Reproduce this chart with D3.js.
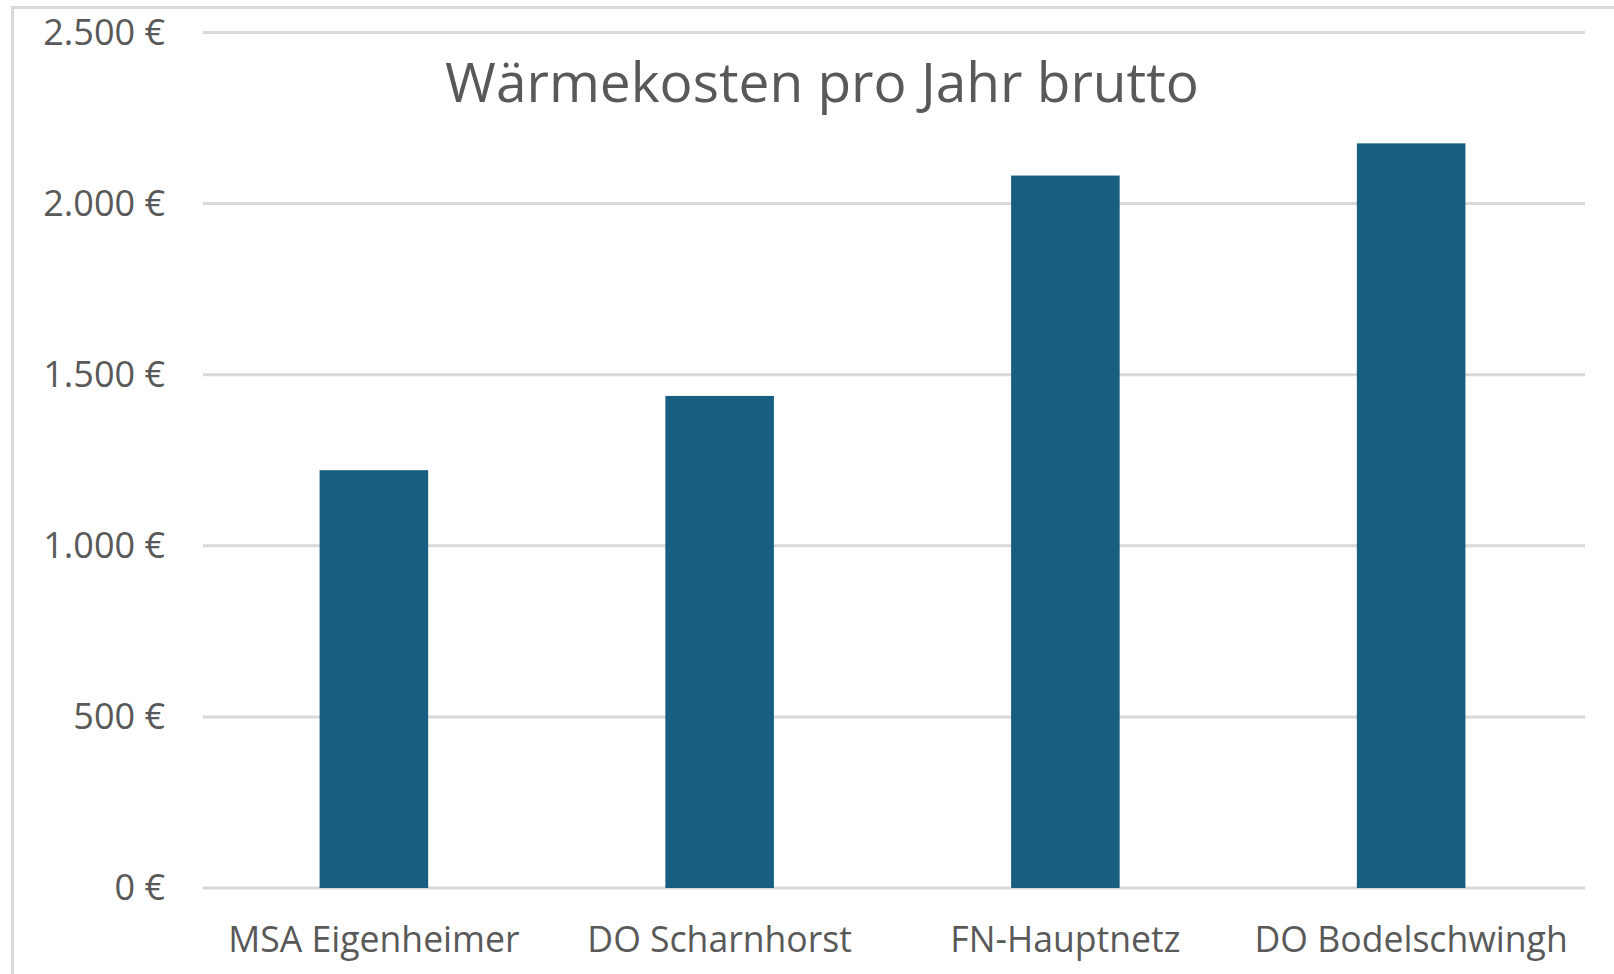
<!DOCTYPE html>
<html>
<head>
<meta charset="utf-8">
<style>
body { margin: 0; background: #fff; overflow: hidden; }
text { font-family: "Open Sans", sans-serif; fill: #595959; }
</style>
<script src="https://cdn.jsdelivr.net/npm/d3@7"></script>
</head>
<body>
<div id="chart"></div>
<script>

// data
var categories = ["MSA Eigenheimer", "DO Scharnhorst", "FN-Hauptnetz", "DO Bodelschwingh"];
var costs = [1221, 1438, 2082, 2176];
var yTicks = [0, 500, 1000, 1500, 2000, 2500];
var chartTitle = "Wärmekosten pro Jahr brutto";

var W = 1614, H = 974;
var margin = {left: 203, right: 29, top: 32.5, bottom: 86};

var svg = d3.select("#chart").append("svg")
    .attr("width", W)
    .attr("height", H);

// chart area border (cut off at right and bottom like the screenshot)
svg.append("rect")
    .attr("x", 12.5).attr("y", 7.5)
    .attr("width", W + 20).attr("height", H + 20)
    .attr("fill", "#fff")
    .attr("stroke", "#d9d9d9")
    .attr("stroke-width", 3);

var x = d3.scaleBand()
    .domain(categories)
    .range([201, 1584])
    .paddingInner(0.686)
    .paddingOuter(0.343);

var y = d3.scaleLinear()
    .domain([0, 2500])
    .range([H - margin.bottom, margin.top]);

var fmt = d3.formatLocale({decimal: ",", thousands: ".", grouping: [3], currency: ["", " €"]});
var euro = function(d) { return fmt.format(",.0f")(d) + " €"; };

// gridlines
svg.append("g").selectAll("line")
    .data(yTicks)
    .join("line")
    .attr("x1", margin.left).attr("x2", W - margin.right)
    .attr("y1", function(d) { return y(d); })
    .attr("y2", function(d) { return y(d); })
    .attr("stroke", "#d9d9d9")
    .attr("stroke-width", 3);

// y axis labels
var yAxis = d3.axisLeft(y).tickValues(yTicks).tickFormat(euro).tickSize(0).tickPadding(0);
svg.append("g")
    .attr("transform", "translate(165,0)")
    .call(yAxis)
    .call(function(g) { g.select(".domain").remove(); })
    .selectAll("text")
    .attr("fill", "#595959")
    .style("font-family", "'Open Sans', sans-serif")
    .style("font-size", "36px")
    .attr("dy", "0.33em");

// bars
svg.append("g").selectAll("rect")
    .data(costs)
    .join("rect")
    .attr("x", function(d, i) { return x(categories[i]); })
    .attr("y", function(d) { return y(d); })
    .attr("width", x.bandwidth())
    .attr("height", function(d) { return y(0) - y(d); })
    .attr("fill", "#175e81");

// x axis labels
var xAxis = d3.axisBottom(x).tickSize(0).tickPadding(0);
svg.append("g")
    .attr("transform", "translate(0," + (y(0) + 64) + ")")
    .call(xAxis)
    .call(function(g) { g.select(".domain").remove(); })
    .selectAll("text")
    .attr("fill", "#595959")
    .attr("dy", 0)
    .style("font-family", "'Open Sans', sans-serif")
    .style("font-size", "35.6px");

// title
svg.append("text")
    .attr("x", 822)
    .attr("y", 102)
    .attr("text-anchor", "middle")
    .style("font-size", "55px")
    .text(chartTitle);

</script>
</body>
</html>
